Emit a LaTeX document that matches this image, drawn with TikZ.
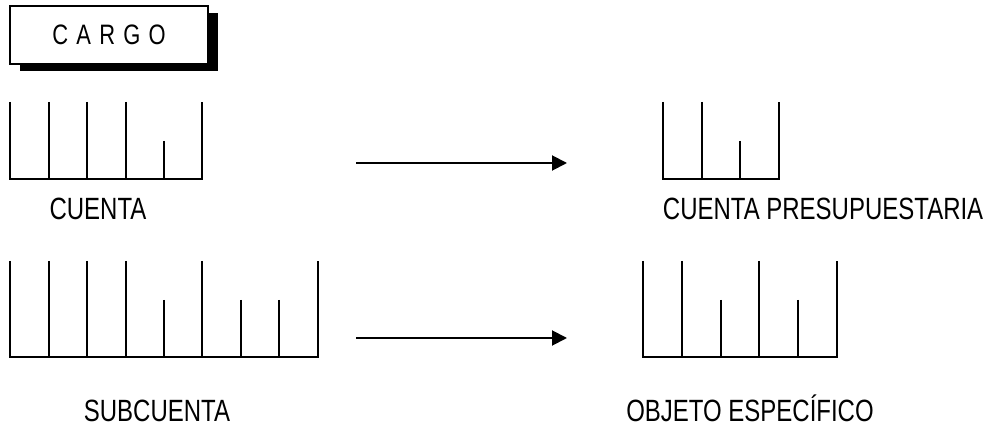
\documentclass[tikz,border=0pt]{standalone}
\usepackage{fontspec}
\setmainfont{Liberation Sans}
\newfontfamily\narrowfont[FakeStretch=0.78]{Liberation Sans}
\usepackage{tikz}
\usetikzlibrary{arrows, arrows.meta, positioning}

\begin{document}
\begin{tikzpicture}[x=0.02cm, y=-0.02cm, line width=1.1pt,
    lbl/.style={font=\narrowfont\fontsize{17.5}{20}\selectfont, inner sep=0pt},
    tip/.style={-{Triangle[length=0.3cm, width=0.3cm]}}]
                    \useasboundingbox (0,0) rectangle (987,425);

                    % cargo box with shadow
                    \fill[black] (20,13) rectangle (218,71);
                    \node[draw, fill=white, line width=0.6pt, minimum width=3.96cm, minimum height=1.16cm,
                          font=\narrowfont\fontsize{16}{18}\selectfont] (cargo) at (109,35) {C\hspace{4.7pt}A\hspace{4.7pt}R\hspace{4.7pt}G\hspace{4.7pt}O};

                    % cuenta
                    \draw (10,102) -- (10,179) -- (202,179) -- (202,102);
                    \foreach \x in {49, 87, 126} \draw (\x,102) -- (\x,179);
                    \draw (164,141) -- (164,179);
                    \node[lbl, anchor=base] (cuenta) at (98,220) {CUENTA};

                    % cuenta presupuestaria
                    \draw (663,102) -- (663,179) -- (779,179) -- (779,102);
                    \draw (702,102) -- (702,179);
                    \draw (740,141) -- (740,179);
                    \node[lbl, anchor=base west] (presup) at (662,220) {CUENTA PRESUPUESTARIA};

                    % subcuenta
                    \draw (10,261) -- (10,357) -- (318,357) -- (318,261);
                    \foreach \x in {49, 87, 126, 202} \draw (\x,261) -- (\x,357);
                    \foreach \x in {164, 241, 279} \draw (\x,300) -- (\x,357);
                    \node[lbl, anchor=base] (subcuenta) at (157,421) {SUBCUENTA};

                    % objeto especifico
                    \draw (643,261) -- (643,357) -- (837,357) -- (837,261);
                    \foreach \x in {682, 759} \draw (\x,261) -- (\x,357);
                    \foreach \x in {721, 798} \draw (\x,300) -- (\x,357);
                    \node[lbl, anchor=base] (objeto) at (750,421) {OBJETO ESPECÍFICO};

                    % arrows
                    \coordinate (top from) at (356,163);
                    \coordinate (top to) at (567,163);
                    \coordinate (bottom from) at (356,338);
                    \coordinate (bottom to) at (567,338);
                    \draw[tip] (top from) -- (top to);
                    \draw[tip] (bottom from) -- (bottom to);
                \end{tikzpicture}
\end{document}
